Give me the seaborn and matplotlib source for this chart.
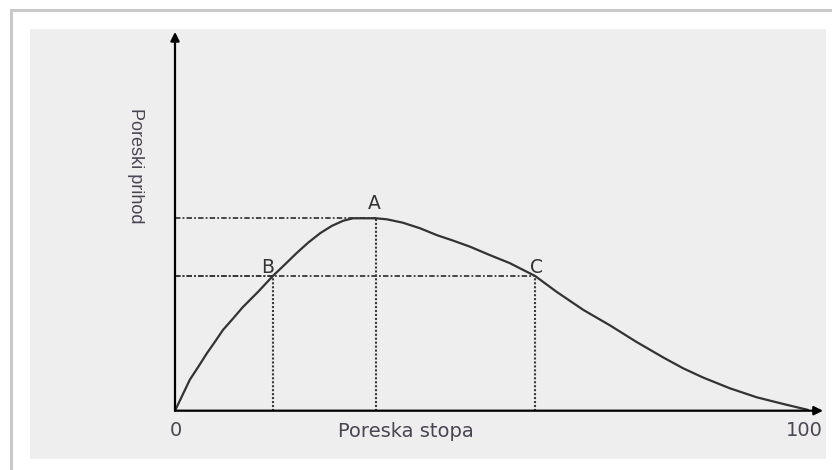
import numpy as np
import pandas as pd
import seaborn as sns
import matplotlib.pyplot as plt
from matplotlib.patches import Rectangle

# -------------------------------
# Podaci (Laferova kriva), očitano sa slike
# -------------------------------
tax_rate = [0, 1.05, 2.3, 3.65, 5.0, 6.25, 7.5, 9.1, 10.6, 13.0, 15.3, 17.2,
            19.0, 20.8, 22.7, 24.5, 26.3, 27.8, 31.4, 33.1, 35.6, 38.3, 40.9,
            43.5, 46.1, 49.2, 52.3, 53.9, 56.25, 59.6, 63.8, 68.0, 72.1, 76.3,
            79.4, 82.5, 86.7, 90.9, 95.0, 98.9]
revenue = [0, 3.5, 7.7, 11.0, 14.4, 17.25, 20.2, 23.1, 25.9, 29.75, 33.7, 36.6,
           39.4, 42.0, 44.4, 46.2, 47.5, 48.1, 48.1, 47.85, 47.0, 45.6, 43.9,
           42.5, 41.0, 38.9, 36.9, 35.6, 33.7, 29.75, 25.2, 21.3, 17.2, 13.3,
           10.6, 8.3, 5.6, 3.35, 1.7, 0.2]

point_names = ['A', 'B', 'C']
point_x = [31.4, 15.3, 56.25]
point_y = [48.1, 33.7, 33.7]

x_ticks = [0, 100]
x_tick_labels = ['0', '100']
x_label = 'Poreska stopa'
y_label = 'Poreski prihod'

curve = pd.DataFrame({'stopa': tax_rate, 'prihod': revenue})

# -------------------------------
# Figura
# -------------------------------
sns.set_style('white')
plt.rcParams['font.family'] = ['DejaVu Sans']

fig = plt.figure(figsize=(8.32, 4.70), dpi=100)
fig.patch.set_facecolor('white')

# okvir slike
fig.patches.append(Rectangle((11 / 832, -0.1), 1.1, 1 - 10 / 470 + 0.1,
                             transform=fig.transFigure, fill=False,
                             edgecolor='#c9c9c9', lw=2.2))

ax = fig.add_axes([30 / 832, 11 / 470, 796 / 832, 430 / 470])
ax.set_facecolor('#eeeeee')
for s in ax.spines.values():
    s.set_visible(False)
ax.set_xticks([])
ax.set_yticks([])

xmin = -145 / 6.4
ax.set_xlim(xmin, xmin + 796 / 6.4)
ymax = (410.7 - 29) / 4
ax.set_ylim(ymax - 430 / 4, ymax)

# isprekidane linije
for px, py in zip(point_x, point_y):
    ax.plot([0, px], [py, py], color='#3a3a3a', lw=1.3,
            linestyle=(0, (3, 1.2, 1, 1.2)))
    ax.plot([px, px], [0, py], color='#3a3a3a', lw=1.5, linestyle=(0, (1, 0.9)))

# kriva
sns.lineplot(data=curve, x='stopa', y='prihod', sort=False, estimator=None,
             color='#333333', lw=1.6, ax=ax)
ax.set_xlabel('')
ax.set_ylabel('')

# ose sa strelicama
arrow = dict(arrowstyle='-|>', color='black', lw=1.6, mutation_scale=13,
             shrinkA=0, shrinkB=0)
ax.annotate('', xy=(0, 94.7), xytext=(0, 0), arrowprops=arrow)
ax.annotate('', xy=(101.25, 0), xytext=(0, 0), arrowprops=arrow)

# oznake tačaka
label_off = {'A': (-0.2, 3.8), 'B': (-0.9, 2.0), 'C': (0.3, 2.0)}
for n, px, py in zip(point_names, point_x, point_y):
    dx, dy = label_off[n]
    ax.text(px + dx, py + dy, n, ha='center', va='center', fontsize=13.5,
            color='#333333')

for t, lab in zip(x_ticks, x_tick_labels):
    ax.text(t + (0.2 if t == 0 else -1.6), -5.0, lab, ha='center', va='center',
            fontsize=14, color='#4b4453')

ax.text(36.1, -5.1, x_label, ha='center', va='center', fontsize=14,
        color='#4b4453')
ax.text(-6.1, 61.2, y_label, ha='center', va='center', rotation=-90,
        fontsize=13, color='#4b4453', family=['Liberation Sans'])

fig.savefig('out.png', dpi=100, facecolor=fig.get_facecolor())
